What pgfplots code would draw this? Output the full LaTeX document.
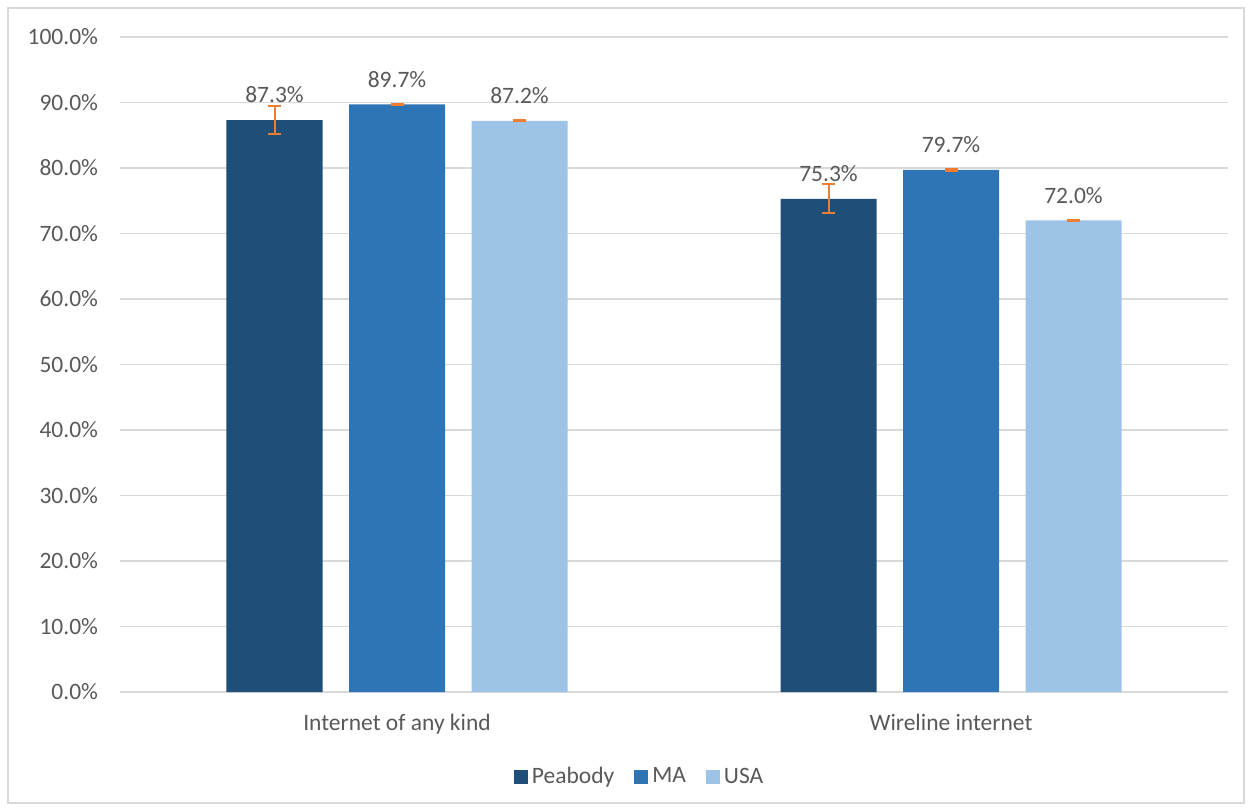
\documentclass[border=0pt]{standalone}
\usepackage{pgfplots}
\pgfplotsset{compat=1.18}
\usepackage{fontspec}
\setmainfont{Carlito}
\definecolor{cPea}{HTML}{1F4E79}
\definecolor{cMA}{HTML}{2E75B6}
\definecolor{cUSA}{HTML}{9DC3E6}
\definecolor{cErr}{HTML}{ED7D31}
\definecolor{cGrid}{HTML}{D9D9D9}
\definecolor{cTxt}{HTML}{595959}
\begin{document}
\fontsize{23.5bp}{28bp}\selectfont
\begin{tikzpicture}
\useasboundingbox (-120bp,-119bp) rectangle (1132bp,692bp);
\draw[cGrid, line width=1.2bp] (-112bp,-111bp) rectangle (1124bp,684bp);
\begin{axis}[
  scale only axis,
  width=1108bp, height=655bp,
  /pgf/number format/assume math mode=true,
  xmin=-0.5, xmax=1.5, ymin=0, ymax=100,
  ybar=26.5bp, bar width=96bp,
  xtick={0,1}, xticklabels={Internet of any kind, Wireline internet},
  ytick={0,10,...,100},
  yticklabel={\pgfmathprintnumber[fixed,fixed zerofill,precision=1]{\tick}\%},
  axis line style={draw=none},
  major tick length=0pt,
  ymajorgrids, grid style={cGrid, line width=1.2bp},
  tick label style={text=cTxt, font=\fontsize{23.5bp}{28bp}\selectfont},
  yticklabel style={xshift=-14bp},
  xticklabel style={yshift=-14bp},
  nodes near coords={\pgfmathprintnumber[fixed,fixed zerofill,precision=1]{\pgfplotspointmeta}\%},
  nodes near coords style={text=cTxt, font=\fontsize{23.5bp}{28bp}\selectfont, anchor=south, inner sep=0pt, yshift=17bp, /pgf/number format/assume math mode=true},
  error bars/y dir=both, error bars/y explicit,
  error bars/error bar style={cErr, line width=2bp},
  error bars/error mark options={cErr, rotate=90, mark size=6.5bp, line width=2bp},
  legend columns=3,
  legend style={draw=none, at={(0.469,-0.130)}, anchor=center, text=cTxt, font=\fontsize{23.5bp}{28bp}\selectfont,
    /tikz/every odd column/.append style={column sep=2bp},
    /tikz/every even column/.append style={column sep=18bp}},
  legend image code/.code={\fill[#1] (0bp,-7bp) rectangle (14bp,7bp);},
  clip=false,
]
\addplot[fill=cPea, draw=none] coordinates {(0,87.3) +- (0,2.1) (1,75.3) +- (0,2.2)};
\addplot[fill=cMA, draw=none] coordinates {(0,89.7) +- (0,0.1) (1,79.7) +- (0,0.1)};
\addplot[fill=cUSA, draw=none] coordinates {(0,87.2) +- (0,0.1) (1,72.0) +- (0,0.1)};
\legend{Peabody, MA, USA}
\end{axis}
\end{tikzpicture}
\end{document}
